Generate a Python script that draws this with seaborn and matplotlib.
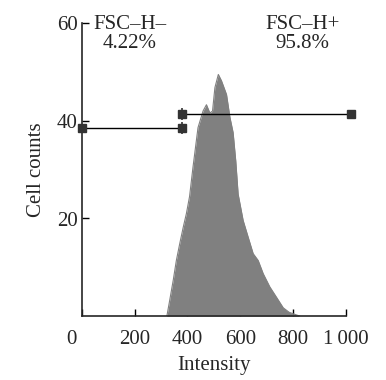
import numpy as np
import pandas as pd
import matplotlib
matplotlib.use("Agg")
import matplotlib.pyplot as plt
import matplotlib.transforms as mtransforms
import seaborn as sns

# Histogram outline (intensity vs cell counts)
intensity = [322, 333, 346, 358, 371, 384, 396, 408, 421, 440, 459, 472, 485,
             495, 504, 517, 529, 548, 561, 573, 583, 592, 611, 626, 649, 668,
             687, 712, 737, 763, 785, 800, 826]
counts = [0, 3.3, 7.3, 11.4, 14.9, 18.2, 21.0, 24.5, 30.5, 38.6, 42.0, 43.3, 41.6,
          42.0, 46.8, 49.5, 48.2, 45.4, 40.7, 37.6, 31.8, 25.0, 19.6, 16.9, 12.8, 11.4,
          8.7, 6.0, 3.9, 1.7, 0.8, 0.5, 0]

# Gates
gate_neg_x = [0, 380]
gate_neg_y = [38.5, 38.5]
gate_pos_x = [380, 1020]
gate_pos_y = [41.3, 41.3]

gate_labels = ["FSC\u2013H\u2013\n4.22%", "FSC\u2013H+\n95.8%"]
gate_label_x = [182, 837]

x_ticks = [0, 200, 400, 600, 800, 1000]
x_tick_labels = ["0", "200", "400", "600", "800", "1\u2009000"]
y_ticks = [20, 40, 60]

sns.set_style("ticks")
plt.rcParams['font.family'] = ['Liberation Serif', 'DejaVu Serif']

df = pd.DataFrame({"Intensity": intensity, "Cell counts": counts})

fig = plt.figure(figsize=(3.86, 3.80), dpi=100)
ax = fig.add_axes([0.212, 0.168, 0.684, 0.771])

ax.fill_between(df["Intensity"], df["Cell counts"], color="#808080", lw=0)
sns.lineplot(data=df, x="Intensity", y="Cell counts", ax=ax, color="#808080", lw=0.8)

# gate bars
for gx, gy in [(gate_neg_x, gate_neg_y), (gate_pos_x, gate_pos_y)]:
    ax.plot(gx, gy, color="black", lw=1.0, clip_on=False, zorder=3)
    ax.plot(gx, gy, ls="none", marker="s", ms=5.5, color="#333333", clip_on=False, zorder=4)
ax.plot([380, 380], [gate_neg_y[0], gate_pos_y[0]], ls="none", marker="|", ms=9,
        mew=1.2, color="#333333", clip_on=False, zorder=4)

for lx, lab in zip(gate_label_x, gate_labels):
    ax.text(lx, 57.8, lab, ha="center", va="center", fontsize=15, linespacing=1.0)

ax.set_xlim(0, 1000)
ax.set_ylim(0, 60)
ax.set_xticks(x_ticks)
ax.set_xticklabels(x_tick_labels)
ax.set_yticks(y_ticks)
ax.tick_params(direction="in", length=5, width=1.0, labelsize=15, color="black")
ax.tick_params(axis="x", pad=10)
ax.tick_params(axis="y", pad=3)
ax.set_xlabel("Intensity", fontsize=15, labelpad=5)
ax.set_ylabel("Cell counts", fontsize=15, labelpad=8)

# the "0" label sits a little left of the axis in the original
zero_lab = ax.get_xticklabels()[0]
zero_lab.set_transform(zero_lab.get_transform() +
                       mtransforms.ScaledTranslation(-10 / 100, 0, fig.dpi_scale_trans))

sns.despine(ax=ax)
for s in ["left", "bottom"]:
    ax.spines[s].set_linewidth(1.2)

fig.savefig("out.png", dpi=100)
